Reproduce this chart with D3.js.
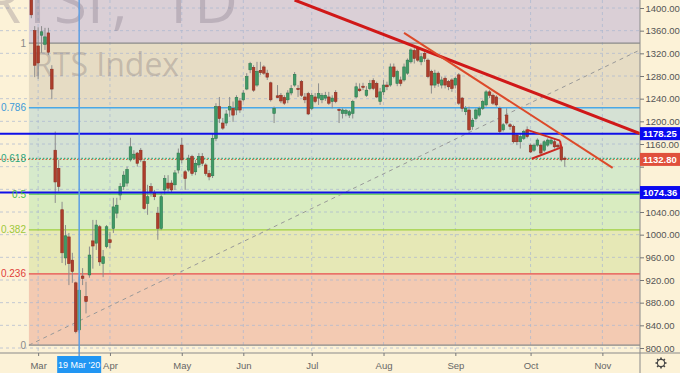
<!DOCTYPE html>
<html>
<head>
<meta charset="utf-8">
<script src="https://d3js.org/d3.v7.min.js"></script>
<style>
  body { margin: 0; background: #fcf2d7; }
  svg { display: block; }
</style>
</head>
<body>
<div id="chart"></div>
<script>
// daily candles, bar 0 = 27 Feb 2020
var opens = [1425,1360,1333,1352,1336,1356,1292,1149,1117,1044,959,996,955,915,832,927,891,929,989,985,
  1014,949,979,991,1011,1038,1070,1085,1091,1132,1135,1144,1149,1129,1055,1085,1073,1038,1011,1079,
  1091,1091,1088,1114,1158,1111,1114,1138,1111,1123,1138,1123,1108,1104,1170,1226,1197,1197,1220,1223,
  1220,1236,1238,1257,1291,1295,1264,1290,1296,1285,1268,1214,1245,1246,1242,1238,1250,1264,1258,1270,
  1243,1249,1223,1243,1241,1238,1241,1243,1235,1251,1221,1214,1214,1211,1214,1243,1257,1262,1246,1258,
  1272,1267,1235,1252,1264,1264,1296,1267,1273,1273,1285,1305,1325,1329,1305,1320,1308,1288,1264,1285,
  1264,1276,1270,1273,1264,1282,1241,1217,1220,1191,1205,1211,1223,1229,1252,1246,1243,1223,1185,1211,
  1194,1191,1176,1164,1170,1185,1158,1149,1158,1158,1149,1158,1161,1164,1158,1155,1135];
var highs = [1440,1368,1366,1368,1365,1365,1299,1182,1132,1058,1017,1003,968,917,926,941,917,979,1026,1026,
  1017,973,1017,1005,1065,1065,1091,1112,1120,1171,1149,1146,1153,1132,1088,1091,1079,1049,1073,1105,
  1105,1096,1114,1152,1171,1114,1141,1141,1132,1144,1144,1126,1114,1178,1232,1243,1206,1220,1243,1235,
  1246,1241,1255,1285,1305,1299,1305,1305,1299,1291,1270,1226,1264,1250,1246,1255,1264,1287,1264,1273,
  1250,1252,1250,1250,1267,1250,1252,1252,1246,1255,1223,1223,1222,1220,1238,1268,1267,1268,1262,1273,
  1276,1270,1259,1273,1270,1302,1302,1291,1279,1302,1311,1329,1329,1332,1320,1326,1311,1291,1291,1288,
  1279,1279,1273,1276,1279,1285,1243,1227,1226,1206,1223,1226,1238,1255,1255,1249,1246,1226,1197,1223,
  1197,1194,1179,1179,1185,1191,1161,1161,1170,1161,1167,1170,1170,1170,1161,1158,1138];
var lows = [1382,1278,1275,1321,1326,1317,1239,1056,1076,950,946,911,915,826,826,911,861,924,940,973,
  945,925,976,976,1003,1029,1061,1079,1085,1129,1132,1120,1128,1044,1035,1067,1061,991,1008,1070,
  1076,1074,1079,1108,1126,1079,1111,1104,1105,1118,1121,1104,1096,1100,1165,1197,1185,1192,1208,1199,
  1211,1215,1235,1255,1285,1252,1261,1282,1282,1273,1235,1197,1241,1232,1229,1232,1246,1261,1243,1243,
  1232,1211,1220,1232,1229,1232,1236,1229,1223,1232,1197,1205,1209,1206,1205,1241,1252,1255,1243,1255,
  1255,1241,1229,1246,1255,1261,1276,1262,1262,1270,1282,1302,1302,1305,1299,1305,1276,1249,1259,1261,
  1258,1258,1255,1252,1258,1229,1217,1211,1182,1185,1202,1208,1220,1226,1241,1229,1226,1179,1182,1194,
  1185,1161,1158,1152,1167,1170,1144,1146,1155,1141,1146,1155,1158,1152,1152,1129,1120];
var closes = [1388,1299,1303,1358,1349,1322,1257,1093,1085,968,998,949,935,829,902,923,882,964,980,1017,
  952,961,1014,986,1049,1052,1085,1105,1115,1155,1142,1126,1132,1046,1067,1076,1067,1011,1067,1099,
  1082,1079,1109,1144,1132,1099,1135,1108,1126,1138,1126,1108,1102,1170,1226,1205,1188,1213,1226,1211,
  1242,1220,1250,1279,1302,1255,1288,1286,1285,1278,1238,1223,1242,1236,1232,1250,1258,1283,1256,1246,
  1238,1213,1246,1235,1249,1246,1246,1232,1241,1235,1219,1220,1219,1217,1235,1261,1254,1260,1255,1267,
  1258,1243,1252,1264,1261,1296,1279,1288,1267,1296,1308,1326,1311,1308,1314,1311,1279,1264,1285,1267,
  1273,1264,1261,1258,1276,1232,1223,1223,1185,1202,1220,1223,1235,1252,1246,1232,1229,1182,1194,1197,
  1191,1164,1164,1173,1182,1173,1146,1158,1167,1144,1164,1167,1167,1155,1155,1132,1132.8];

// month labels and the bar they start on
var monthLabels = ["Mar", "Apr", "May", "Jun", "Jul", "Aug", "Sep", "Oct", "Nov"];
var monthBars = [2, 23, 44, 62, 82, 103, 124, 146, 167];
var priceTicks = d3.range(800, 1401, 40);

// fibonacci retracement
var fibLow = 805, fibHigh = 1338;
var fibLevels = [0, 0.236, 0.382, 0.5, 0.618, 0.786, 1];
var fibStartBar = -0.7;
var fibTrend = [[-0.7, 805], [178, 1326]];

// drawn lines [bar, price]
var longTrend = [[77, 1414], [178, 1178.25]];
var shortTrend = [[109, 1356], [170, 1118]];
var triangleTop = [[145, 1185], [154.6, 1166]];
var triangleBottom = [[146.3, 1134], [155, 1154]];
var triangleSide = [[154.6, 1166], [155, 1154]];
var levelLines = [1178.25, 1074.36];
var lastPrice = 1132.8;
var crossBar = 14, crossLabel = "19 Mar '20";

var width = 680;
var height = 373;
var plotRight = 640, plotBottom = 353;

var svg = d3.select("#chart")
    .append("svg")
    .attr("width", width)
    .attr("height", height)
    .style("font-family", "'Liberation Sans', Arial, sans-serif");

var x = d3.scaleLinear().domain([0, 178]).range([31.3, 640]);
var y = d3.scaleLinear().domain([800, 1400]).range([348, 8]);

var cream = "#fcf2d7";
svg.append("rect").attr("width", width).attr("height", height).attr("fill", cream);

svg.append("clipPath").attr("id", "plot")
  .append("rect").attr("width", plotRight).attr("height", plotBottom);

var plot = svg.append("g").attr("clip-path", "url(#plot)");

// fib zones
var fibPrice = function(l) { return fibLow + l * (fibHigh - fibLow); };
var zoneColors = ["#f3cab2", "#e6e8b6", "#d9ecc0", "#d6eacb", "#d5e1d4", "#e6dcc4", "#dacfd6"];
var zoneTops = fibLevels.slice(1).map(fibPrice).concat([1500]);
fibLevels.forEach(function(l, i) {
  plot.append("rect")
    .attr("x", x(fibStartBar))
    .attr("width", plotRight - x(fibStartBar))
    .attr("y", y(zoneTops[i]))
    .attr("height", y(fibPrice(l)) - y(zoneTops[i]))
    .attr("fill", zoneColors[i]);
});

// grid
plot.selectAll(".hgrid").data(priceTicks).enter().append("line")
  .attr("x1", 0).attr("x2", plotRight)
  .attr("y1", function(d) { return y(d); }).attr("y2", function(d) { return y(d); })
  .attr("stroke", "#aab6d0").attr("stroke-opacity", 0.7).attr("stroke-dasharray", "3,3");
plot.selectAll(".vgrid").data(monthBars).enter().append("line")
  .attr("x1", function(d) { return x(d); }).attr("x2", function(d) { return x(d); })
  .attr("y1", 0).attr("y2", plotBottom)
  .attr("stroke", "#aab6d0").attr("stroke-opacity", 0.7).attr("stroke-dasharray", "3,3");

// watermark (symbol + interval), cut by the top edge like the original
var wm = plot.append("text")
  .attr("y", 23)
  .style("font-family", "'Open Sans', sans-serif")
  .style("font-size", "60px")
  .attr("fill", "rgba(110,100,120,0.28)");
wm.append("tspan").attr("x", -16).text("RTSI");
wm.append("tspan").attr("x", 112).text(",");
wm.append("tspan").attr("x", 160).text("1D");
plot.append("text")
  .attr("x", 33).attr("y", 76)
  .style("font-family", "'Open Sans', sans-serif")
  .style("font-size", "32px")
  .attr("fill", "rgba(110,100,110,0.3)")
  .text("RTS Index");

// fib level lines
var fibColors = ["#8a8a8a", "#e84c4c", "#9fcf3e", "#4fc94f", "#2fae86", "#4aa8e6", "#8a8a8a"];
var fibLabelColors = ["#8a8a8a", "#e0403a", "#9cc83a", "#47c147", "#2aa57e", "#3d9ad8", "#8a8a8a"];

// last price line (under the 0.618 level)
plot.append("line")
  .attr("x1", 0).attr("x2", plotRight)
  .attr("y1", y(lastPrice)).attr("y2", y(lastPrice))
  .attr("stroke", "#e0603c").attr("stroke-width", 1.2).attr("stroke-dasharray", "1.5,2");

fibLevels.forEach(function(l, i) {
  var line = plot.append("line")
    .attr("x1", x(fibStartBar)).attr("x2", plotRight)
    .attr("y1", y(fibPrice(l))).attr("y2", y(fibPrice(l)))
    .attr("stroke", fibColors[i]).attr("stroke-width", 1.3);
  if (l === 0.618) line.attr("stroke-dasharray", "1.5,2");
  svg.append("text")
    .attr("x", 26).attr("y", y(fibPrice(l)))
    .attr("dy", "0.35em")
    .attr("text-anchor", "end")
    .style("font-size", "10px")
    .attr("fill", fibLabelColors[i])
    .text(l);
});

var seg = d3.line()
  .x(function(d) { return x(d[0]); })
  .y(function(d) { return y(d[1]); });

plot.append("path").datum(fibTrend)
  .attr("d", seg).attr("fill", "none")
  .attr("stroke", "#999").attr("stroke-width", 1).attr("stroke-dasharray", "4,4");

// candles
var bars = d3.range(opens.length);
plot.selectAll(".wick").data(bars).enter().append("line")
  .attr("x1", function(i) { return x(i); }).attr("x2", function(i) { return x(i); })
  .attr("y1", function(i) { return y(highs[i]); })
  .attr("y2", function(i) { return y(lows[i]); })
  .attr("stroke", "#8c8c8c").attr("stroke-width", 1);
plot.selectAll(".body").data(bars).enter().append("rect")
  .attr("x", function(i) { return x(i) - 1.3; })
  .attr("width", 2.6)
  .attr("y", function(i) { return y(Math.max(opens[i], closes[i])); })
  .attr("height", function(i) { return Math.max(1, Math.abs(y(opens[i]) - y(closes[i]))); })
  .attr("fill", function(i) { return closes[i] >= opens[i] ? "#3f9a66" : "#ad3e2c"; })
  .attr("stroke", function(i) { return closes[i] >= opens[i] ? "#2d7a4e" : "#8e2e20"; })
  .attr("stroke-width", 0.6);

// horizontal levels
levelLines.forEach(function(p) {
  plot.append("line")
    .attr("x1", 0).attr("x2", plotRight)
    .attr("y1", y(p)).attr("y2", y(p))
    .attr("stroke", "#1010e8").attr("stroke-width", 2);
});

// trend lines
plot.append("path").datum(longTrend).attr("d", seg)
  .attr("stroke", "#d01818").attr("stroke-width", 3).attr("fill", "none");
plot.append("path").datum(shortTrend).attr("d", seg)
  .attr("stroke", "#dc4a2a").attr("stroke-width", 2).attr("fill", "none");
[triangleTop, triangleBottom, triangleSide].forEach(function(t) {
  plot.append("path").datum(t).attr("d", seg)
    .attr("stroke", "#cc2a22").attr("stroke-width", 2).attr("fill", "none");
});

// crosshair
svg.append("line")
  .attr("x1", x(crossBar)).attr("x2", x(crossBar))
  .attr("y1", 0).attr("y2", height)
  .attr("stroke", "#5d9fe4").attr("stroke-width", 1.5);

// axes
svg.append("line").attr("x1", plotRight).attr("x2", plotRight)
  .attr("y1", 0).attr("y2", height).attr("stroke", "#8a8a8a");
svg.append("line").attr("x1", 0).attr("x2", width)
  .attr("y1", plotBottom).attr("y2", plotBottom).attr("stroke", "#8a8a8a");

var tagPrices = [levelLines[0], lastPrice, levelLines[1]];
var tagColors = ["#0a0af0", "#e0503c", "#0a0af0"];

var yAxis = svg.append("g")
  .attr("transform", "translate(" + plotRight + ",0)")
  .call(d3.axisRight(y).tickValues(priceTicks).tickSize(4).tickPadding(1.5)
        .tickFormat(d3.format(".2f")));
yAxis.select(".domain").remove();
yAxis.selectAll("line").attr("stroke", "#777");
yAxis.selectAll("text").attr("fill", "#555").style("font-size", "9.5px")
  .style("font-family", "'Liberation Sans', Arial, sans-serif");
// price tags hide the tick labels underneath them
yAxis.selectAll(".tick text").filter(function(d) {
  return tagPrices.some(function(p) { return Math.abs(y(p) - y(d)) < 10; });
}).remove();

var xAxis = svg.append("g")
  .attr("transform", "translate(0," + plotBottom + ")")
  .call(d3.axisBottom(x).tickValues(monthBars).tickSize(3).tickPadding(6)
        .tickFormat(function(d, i) { return monthLabels[i]; }));
xAxis.select(".domain").remove();
xAxis.selectAll("line").attr("stroke", "#777");
xAxis.selectAll("text").attr("fill", "#666").style("font-size", "9.5px")
  .style("font-family", "'Liberation Sans', Arial, sans-serif");

// price tags
tagPrices.forEach(function(p, i) {
  svg.append("rect")
    .attr("x", plotRight).attr("y", y(p) - 6.5)
    .attr("width", width - plotRight).attr("height", 13)
    .attr("fill", tagColors[i]);
  svg.append("text")
    .attr("x", plotRight + 3).attr("y", y(p))
    .attr("dy", "0.35em")
    .style("font-size", "9.5px").style("font-weight", "bold")
    .attr("fill", "#fff")
    .text(d3.format(".2f")(p));
});

// crosshair date tag
svg.append("rect")
  .attr("x", x(crossBar) - 22).attr("y", plotBottom + 3)
  .attr("width", 44).attr("height", height - plotBottom - 3)
  .attr("fill", "#2196f3");
svg.append("text")
  .attr("x", x(crossBar)).attr("y", plotBottom + 12)
  .attr("dy", "0.35em").attr("text-anchor", "middle")
  .style("font-size", "9px").attr("fill", "#fff")
  .text(crossLabel);

// settings gear
var gear = svg.append("g").attr("transform", "translate(661,363)");
d3.range(8).forEach(function(k) {
  var a = k * Math.PI / 4;
  gear.append("line")
    .attr("x1", Math.cos(a) * 3.5).attr("y1", Math.sin(a) * 3.5)
    .attr("x2", Math.cos(a) * 5.5).attr("y2", Math.sin(a) * 5.5)
    .attr("stroke", "#444").attr("stroke-width", 1.6);
});
gear.append("circle").attr("r", 3.6).attr("fill", cream).attr("stroke", "#444").attr("stroke-width", 1.1);
</script>
</body>
</html>
